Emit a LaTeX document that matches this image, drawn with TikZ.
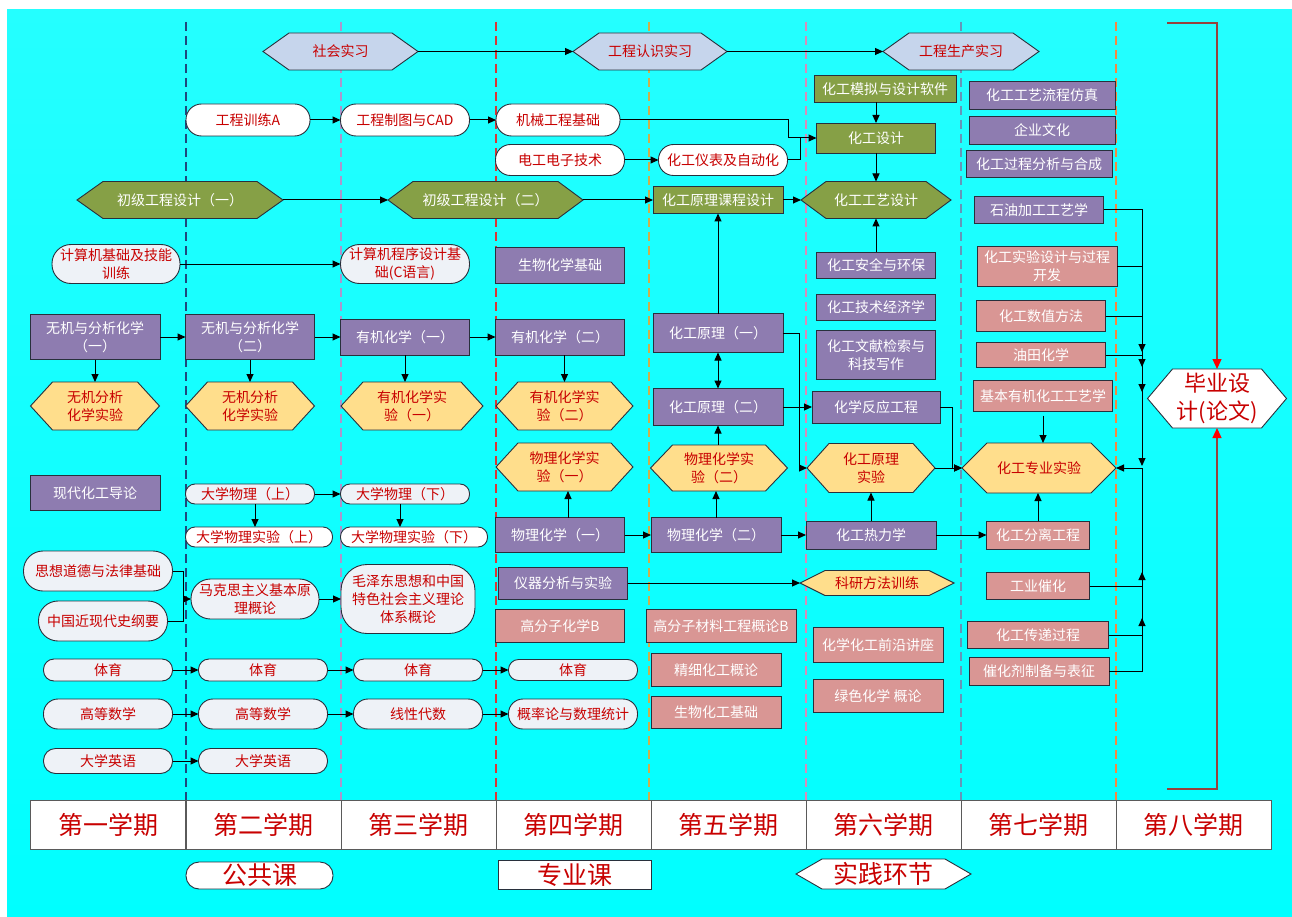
\documentclass[tikz,border=0pt]{standalone}
\usepackage{fontspec}
\setmainfont{Noto Sans CJK SC}
\usetikzlibrary{arrows.meta,calc}
\pgfdeclarelayer{back}\pgfdeclarelayer{bg}\pgfsetlayers{back,bg,main}
\definecolor{cPur}{RGB}{142,124,176}
\definecolor{cGrn}{RGB}{134,160,70}
\definecolor{cPnk}{RGB}{217,150,148}
\definecolor{cYel}{RGB}{255,222,140}
\definecolor{cLb}{RGB}{198,213,236}
\definecolor{cLg}{RGB}{238,242,247}
\definecolor{cRed}{RGB}{200,0,0}
\definecolor{cBord}{RGB}{40,48,60}
\definecolor{cGrey}{RGB}{90,90,90}
\definecolor{bgTop}{RGB}{36,255,255}
\definecolor{bgBot}{RGB}{0,255,255}
\definecolor{dA}{RGB}{31,73,125}
\definecolor{dB}{RGB}{170,150,205}
\definecolor{dC}{RGB}{215,55,55}
\definecolor{dD}{RGB}{205,175,75}
\definecolor{dE}{RGB}{215,140,185}
\definecolor{dF}{RGB}{100,150,185}
\definecolor{dG}{RGB}{245,135,65}
\definecolor{cBrk}{RGB}{150,65,60}
\tikzset{
  nb/.style={inner sep=0pt, outer sep=0pt, align=center, font=\fontsize{14}{18}\selectfont, line width=0.9pt, draw=cBord},
  pur/.style={nb, fill=cPur, text=white},
  grnb/.style={nb, fill=cGrn, text=white},
  pnk/.style={nb, fill=cPnk, text=white},
  pw/.style={nb, fill=white, text=cRed, rounded corners=#1},
  pg/.style={nb, fill=cLg, text=cRed, rounded corners=#1},
  hx/.style={inner sep=0pt, outer sep=0pt, align=center, font=\fontsize{14}{18}\selectfont, text=cRed},
  hxw/.style={hx, text=white},
  sem/.style={draw=cGrey, fill=white, line width=0.9pt, minimum width=155pt, minimum height=49pt, inner sep=0pt, font=\fontsize{25}{30}\selectfont, text=cRed},
  ln/.style={draw=black, line width=1pt},
  arr/.style={ln, -{Triangle[length=8pt,width=7pt]}},
  darr/.style={ln, {Triangle[length=8pt,width=7pt]}-{Triangle[length=8pt,width=7pt]}},
  brk/.style={draw=cBrk, line width=1.2pt, -{Triangle[length=10pt,width=9pt,color=red]}},
  dl/.style={dash pattern=on 9pt off 5pt, line width=2pt},
}
\newcommand\mkbox[6]{\node[#1,minimum width=#4pt,minimum height=#5pt] (#2) at (#3) {#6};}
\newcommand\hexbg[3]{\begin{pgfonlayer}{bg}\filldraw[fill=#3,draw=cBord,line width=0.9pt] (#1.west) -- ([xshift=#2]#1.north west) -- ([xshift=-#2]#1.north east) -- (#1.east) -- ([xshift=-#2]#1.south east) -- ([xshift=#2]#1.south west) -- cycle;\end{pgfonlayer}}
\begin{document}
\begin{tikzpicture}[x=1pt,y=-1pt]
\useasboundingbox (0,0) rectangle (1292,917);
\begin{pgfonlayer}{back}
\fill[white] (0,0) rectangle (1292,917);
\shade[top color=bgTop, bottom color=bgBot] (7,10) rectangle (1292,917);
\draw[dl, dA] (186,22) -- (186,800);
\draw[dl, dB] (341,22) -- (341,800);
\draw[dl, dC] (496,22) -- (496,800);
\draw[dl, dD] (649,22) -- (649,800);
\draw[dl, dE] (806,22) -- (806,800);
\draw[dl, dF] (961,22) -- (961,800);
\draw[dl, dG] (1116,22) -- (1116,800);
\end{pgfonlayer}

% top practice hexagons
\mkbox{hx}{sh}{340.5,51.5}{155}{37}{社会实习}\hexbg{sh}{26pt}{cLb}
\mkbox{hx}{rs}{650,51.5}{154}{37}{工程认识实习}\hexbg{rs}{26pt}{cLb}
\mkbox{hx}{sc}{961,51.5}{156}{37}{工程生产实习}\hexbg{sc}{26pt}{cLb}

% column 1
\mkbox{hxw}{cj1}{180,200}{206}{37}{初级工程设计（一）}\hexbg{cj1}{26pt}{cGrn}
\mkbox{pg=19pt}{jsj1}{116,264}{128}{39}{计算机基础及技能\\训练}
\mkbox{pur}{wj1}{95,337}{130}{45}{无机与分析化学\\（一）}
\mkbox{hx}{wsy1}{95,406}{129}{48}{无机分析\\化学实验}\hexbg{wsy1}{22pt}{cYel}
\mkbox{pur}{xd}{95,493}{130}{35}{现代化工导论}
\mkbox{pg=19.5pt}{sx}{98,571}{149}{40}{思想道德与法律基础}
\mkbox{pg=19.5pt}{zg}{103,621}{129}{40}{中国近现代史纲要}
\mkbox{pg=10.5pt}{ty1}{108,670}{129}{22}{体育}
\mkbox{pg=14.5pt}{gs1}{108,714}{129}{30}{高等数学}
\mkbox{pg=12pt}{yy1}{108,761}{129}{25}{大学英语}

% column 2
\mkbox{pw=15.5pt}{gx}{248,120}{124}{32}{工程训练A}
\mkbox{pur}{wj2}{250,337}{129}{45}{无机与分析化学\\（二）}
\mkbox{hx}{wsy2}{250,406}{129}{48}{无机分析\\化学实验}\hexbg{wsy2}{22pt}{cYel}
\mkbox{pg=9.5pt}{wl1}{250,494}{129}{20}{大学物理（上）}
\mkbox{pw=9.5pt}{wls1}{259,537}{147}{20}{大学物理实验（上）}
\mkbox{pg=19.5pt}{mk}{255,599}{128}{40}{马克思主义基本原\\理概论}
\mkbox{pg=10.5pt}{ty2}{263,670}{129}{22}{体育}
\mkbox{pg=14.5pt}{gs2}{263,714}{129}{30}{高等数学}
\mkbox{pg=12pt}{yy2}{263,761}{129}{25}{大学英语}

% column 3
\mkbox{pw=15.5pt}{zt}{405,120}{129}{32}{工程制图与CAD}
\mkbox{hxw}{cj2}{485.5,200}{195}{37}{初级工程设计（二）}\hexbg{cj2}{25pt}{cGrn}
\mkbox{pg=19pt}{jsj2}{405,264}{129}{39}{计算机程序设计基\\础(C语言)}
\mkbox{pur}{yj1}{405,337}{129}{36}{有机化学（一）}
\mkbox{hx}{ysy1}{412,406}{142}{48}{有机化学实\\验（一）}\hexbg{ysy1}{22pt}{cYel}
\mkbox{pg=9.5pt}{wl2}{405,494}{129}{20}{大学物理（下）}
\mkbox{pw=9.5pt}{wls2}{414,537}{147}{20}{大学物理实验（下）}
\mkbox{pg=26pt}{mz}{408,599}{134}{69}{毛泽东思想和中国\\特色社会主义理论\\体系概论}
\mkbox{pg=10.5pt}{ty3}{418,670}{129}{22}{体育}
\mkbox{pg=14.5pt}{xx}{418,714}{129}{30}{线性代数}

% column 4
\mkbox{pw=15.5pt}{jx}{558,120}{124}{32}{机械工程基础}
\mkbox{pw=15pt}{dg}{560,160}{129}{31}{电工电子技术}
\mkbox{pur}{sw}{560,265}{129}{36}{生物化学基础}
\mkbox{pur}{yj2}{560,337}{129}{36}{有机化学（二）}
\mkbox{hx}{ysy2}{564.5,406}{137}{48}{有机化学实\\验（二）}\hexbg{ysy2}{22pt}{cYel}
\mkbox{hx}{wsy1p}{564.5,467}{137}{48}{物理化学实\\验（一）}\hexbg{wsy1p}{22pt}{cYel}
\mkbox{pur}{wh1}{560,535}{129}{35}{物理化学（一）}
\mkbox{pur}{yq}{563,583}{129}{32}{仪器分析与实验}
\mkbox{pnk}{gfz}{560,626}{129}{33}{高分子化学B}
\mkbox{pg=10pt}{ty4}{573,670}{129}{21}{体育}
\mkbox{pg=14.5pt}{gl}{573,714}{129}{30}{概率论与数理统计}

% column 5
\mkbox{pw=15pt}{yb}{723,160}{129}{31}{化工仪表及自动化}
\mkbox{grnb}{kcs}{718,200}{130}{27}{化工原理课程设计}
\mkbox{pur}{hy1}{718,333}{130}{39}{化工原理（一）}
\mkbox{pur}{hy2}{718,407}{130}{37}{化工原理（二）}
\mkbox{hx}{wsy2p}{719,468}{137}{46}{物理化学实\\验（二）}\hexbg{wsy2p}{22pt}{cYel}
\mkbox{pur}{wh2}{716,535}{130}{35}{物理化学（二）}
\mkbox{pnk}{gfc}{721,626}{150}{33}{高分子材料工程概论B}
\mkbox{pnk}{jxh}{716,670}{130}{33}{精细化工概论}
\mkbox{pnk}{swh}{716,712}{130}{32}{生物化工基础}

% column 6
\mkbox{grnb}{mn}{885,89}{142}{27}{化工模拟与设计软件}
\mkbox{grnb}{hs}{876,138}{119}{30}{化工设计}
\mkbox{hxw}{gy}{876,200}{150}{37}{化工工艺设计}\hexbg{gy}{25pt}{cGrn}
\mkbox{pur}{aq}{876,265}{119}{26}{化工安全与环保}
\mkbox{pur}{jj}{876,307}{119}{26}{化工技术经济学}
\mkbox{pur}{wx}{876,355}{119}{49}{化工文献检索与\\科技写作}
\mkbox{pur}{fy}{876,407}{128}{32}{化学反应工程}
\mkbox{hx}{yex}{871,468}{128}{49}{化工原理\\实验}\hexbg{yex}{22pt}{cYel}
\mkbox{pur}{rl}{871,535}{130}{28}{化工热力学}
\mkbox{hx}{ky}{877,583}{154}{25}{科研方法训练}\hexbg{ky}{25pt}{cYel}
\mkbox{pnk}{qy}{878,645}{130}{35}{化学化工前沿讲座}
\mkbox{pnk}{ls}{878,696}{130}{33}{绿色化学 概论}

% column 7
\mkbox{pur}{fz}{1042,95}{146}{28}{化工工艺流程仿真}
\mkbox{pur}{qw}{1042,130}{146}{28}{企业文化}
\mkbox{pur}{gc}{1039,164}{146}{27}{化工过程分析与合成}
\mkbox{pur}{sy}{1039,210}{129}{27}{石油加工工艺学}
\mkbox{pnk}{sj}{1047,266}{140}{40}{化工实验设计与过程\\开发}
\mkbox{pnk}{sz}{1041,316}{129}{31}{化工数值方法}
\mkbox{pnk}{yt}{1041,355}{129}{25}{油田化学}
\mkbox{pnk}{jb}{1043,396}{139}{31}{基本有机化工工艺学}
\mkbox{hx}{zy}{1039,468}{154}{50}{化工专业实验}\hexbg{zy}{25pt}{cYel}
\mkbox{pnk}{fl}{1038,535}{103}{28}{化工分离工程}
\mkbox{pnk}{gyc}{1038,586}{103}{27}{工业催化}
\mkbox{pnk}{cd}{1038,635}{141}{27}{化工传递过程}
\mkbox{pnk}{ch}{1039,671}{140}{28}{催化剂制备与表征}

% graduation design
\node[hx, font=\fontsize{22}{28}\selectfont, minimum width=139pt, minimum height=59pt] (bs) at (1217,398.5) {毕业设\\计(论文)};\hexbg{bs}{25pt}{white}

% semesters
\foreach \n/\cx/\t in {1/108/第一学期,2/263.5/第二学期,3/418.5/第三学期,4/573.5/第四学期,5/728.5/第五学期,6/883.5/第六学期,7/1038.5/第七学期,8/1193.5/第八学期}
  \node[sem] (s\n) at (\cx,824.5) {\t};

% legend
\node[pw=13pt, font=\fontsize{25}{30}\selectfont, minimum width=147pt, minimum height=27pt] (lg1) at (259.5,875.5) {公共课};
\node[nb, fill=white, text=cRed, font=\fontsize{25}{30}\selectfont, minimum width=153pt, minimum height=29pt] (lg2) at (574.5,874.5) {专业课};
\node[hx, font=\fontsize{25}{30}\selectfont, minimum width=175pt, minimum height=30pt] (lg3) at (883.5,874) {实践环节};\hexbg{lg3}{26pt}{white}

% connectors
\draw[arr] (sh.east) -- (rs.west);
\draw[arr] (rs.east) -- (sc.west);
\draw[arr] (gx.east) -- (zt.west);
\draw[arr] (zt.east) -- (jx.west);
\coordinate (k1) at (788,120);
\coordinate (k2) at (800,138);
\draw[arr] (jx.east) -- (k1) |- (hs.west);
\draw[ln] (yb.east) -| (k2);
\draw[arr] (dg.east) -- (yb.west);
\draw[arr] (mn.south -| hs.north) -- (hs.north);
\draw[arr] (hs.south) -- (gy.north);
\draw[arr] (aq.north) -- (gy.south);
\draw[arr] (cj1.east) -- (cj2.west);
\draw[arr] (cj2.east) -- (kcs.west);
\draw[arr] (kcs.east) -- (gy.west);
\draw[arr] (hy1.north) -- (kcs.south);
\draw[arr] (jsj1.east) -- (jsj2.west);
\draw[arr] (wj1.east) -- (wj2.west);
\draw[arr] (wj2.east) -- (yj1.west);
\draw[arr] (yj1.east) -- (yj2.west);
\draw[arr] (wj1.south) -- (wsy1.north);
\draw[arr] (wj2.south) -- (wsy2.north);
\draw[arr] (yj1.south) -- (yj1.south |- ysy1.north);
\draw[arr] (yj2.south -| ysy2.north) -- (ysy2.north);
\draw[darr] (hy1.south) -- (hy2.north);
\coordinate (k3) at (799,468);
\draw[arr] (hy1.east) -| (k3) -- (yex.west);
\draw[arr] (hy2.east) -- (fy.west);
\draw[arr] (wsy2p.north -| hy2.south) -- (hy2.south);
\draw[arr] (wh2.north) -- (wh2.north |- wsy2p.south);
\draw[arr] ([xshift=8pt]wh1.north) -- ([xshift=8pt]wh1.north |- wsy1p.south);
\draw[arr] (wh1.east) -- (wh2.west);
\draw[arr] (wh2.east) -- (rl.west);
\draw[arr] (rl.east) -- (fl.west);
\draw[arr] (rl.north) -- (yex.south);
\draw[arr] (fl.north) -- (fl.north |- zy.south);
\draw[arr] (yq.east) -- (ky.west);
\coordinate (k4) at (952,468);
\draw[arr] (fy.east) -| (k4) -- (zy.west);
\draw[arr] (yex.east) -- (zy.west);
\draw[arr] ([yshift=-4pt]jb.south) -- (jb.south |- zy.north);
% bus
\coordinate (b1) at (1142,352);
\coordinate (b2) at (1142,367);
\coordinate (b3) at (1142,392);
\coordinate (b4) at (1142,466);
\coordinate (bj) at (1142,468);
\coordinate (b5) at (1142,572);
\coordinate (b6) at (1142,618);
\draw[arr] (sy.east) -| (b1);
\draw[arr] (sj.east) -| (b2);
\draw[arr] (sz.east) -| (b3);
\draw[arr] (yt.east) -| (b4);
\draw[arr] (bj) -- (zy.east);
\draw[arr] (gyc.east) -| (b5);
\draw[arr] (cd.east) -| (b6);
\draw[ln] (ch.east) -| (bj);
% physics, politics, basics
\draw[arr] (wl1.east) -- (wl2.west);
\draw[arr] ([xshift=5pt]wl1.south) -- ([xshift=5pt]wl1.south |- wls1.north);
\draw[arr] ([xshift=-5pt]wl2.south) -- ([xshift=-5pt]wl2.south |- wls2.north);
\coordinate (k5) at (183,599);
\draw[ln] (sx.east) -| (k5);
\draw[ln] (zg.east) -| (k5);
\draw[arr] (k5) -- (mk.west);
\draw[arr] (mk.east) -- (mz.west);
\draw[arr] (ty1.east) -- (ty2.west);
\draw[arr] (ty2.east) -- (ty3.west);
\draw[arr] (ty3.east) -- (ty4.west);
\draw[arr] (gs1.east) -- (gs2.west);
\draw[arr] (gs2.east) -- (xx.west);
\draw[arr] (xx.east) -- (gl.west);
\draw[arr] (yy1.east) -- (yy2.west);
% bracket to graduation design
\coordinate (t1) at (1167,23);
\coordinate (t2) at (1217,23);
\coordinate (u1) at (1167,789);
\coordinate (u2) at (1217,789);
\draw[brk] (t1) -- (t2) -- (bs.north);
\draw[brk] (u1) -- (u2) -- (bs.south);
\end{tikzpicture}
\end{document}
